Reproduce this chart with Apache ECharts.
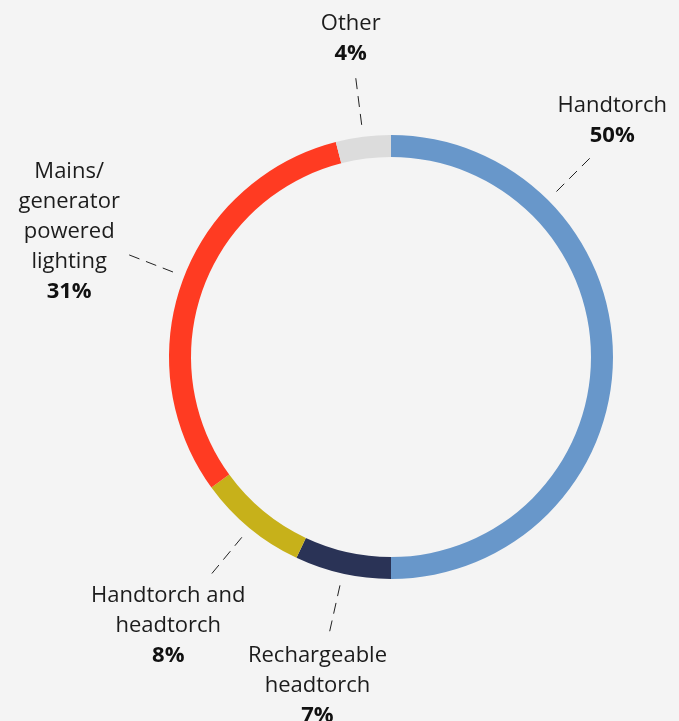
<!DOCTYPE html>
<html>
<head>
<meta charset="utf-8">
<script src="https://cdn.jsdelivr.net/npm/echarts@6/dist/echarts.min.js"></script>
<style>
  html, body { margin: 0; padding: 0; background: #f4f4f4; }
  #chart { width: 679px; height: 721px; }
</style>
</head>
<body>
<div id="chart"></div>
<script>
// Main light source used (share of respondents, %)
const categories = ['Handtorch', 'Rechargeable headtorch', 'Handtorch and headtorch', 'Mains/generator powered lighting', 'Other'];
const labelText = [['Handtorch'], ['Rechargeable', 'headtorch'], ['Handtorch and', 'headtorch'], ['Mains/', 'generator', 'powered', 'lighting'], ['Other']];
const shares = [50, 7, 8, 31, 4];
const colors = ['#6897ca', '#2a3356', '#c7b11a', '#ff3b22', '#dcdcdc'];

// ring geometry and leader lines
const CHART_W = 679;
const CENTER = [391, 357];
const RING = [200, 222];
const LEADER_FROM = 234;
const LEADER_TO = 281;
const LABEL_GAP = 10;
const LINE_H = 30;
const EDGE_MARGIN = 12;
// leader angles (degrees clockwise from 12 o'clock) that differ from the slice mid-angle
const leaderAngleOverride = { 0: 45, 3: 291.3 };

const total = shares.reduce((a, b) => a + b, 0);
const midAngles = [];
let acc = 0;
shares.forEach(v => { midAngles.push((acc + v / 2) / total * 360); acc += v; });

const FONT = "'Open Sans', sans-serif";

const chart = echarts.init(document.getElementById('chart'), null, { renderer: 'canvas' });

chart.setOption({
  backgroundColor: '#f4f4f4',
  animation: false,
  series: [{
    type: 'pie',
    center: CENTER,
    radius: RING,
    startAngle: 90,
    clockwise: true,
    silent: true,
    avoidLabelOverlap: false,
    data: categories.map((name, i) => ({
      name: name,
      value: shares[i],
      itemStyle: { color: colors[i] }
    })),
    itemStyle: { borderWidth: 0 },
    label: {
      show: true,
      position: 'outside',
      overflow: 'none',
      formatter: p => labelText[p.dataIndex].map(s => '{n|' + s + '}').join('\n') + '\n{p|' + p.value + '%}',
      rich: {
        n: { fontFamily: FONT, fontSize: 22, lineHeight: LINE_H, color: '#1c1c1c', align: 'center' },
        p: { fontFamily: FONT, fontSize: 22, lineHeight: LINE_H, fontWeight: 'bold', color: '#111', align: 'center' }
      }
    },
    labelLine: {
      show: true,
      length: 40,
      length2: 0,
      lineStyle: { color: '#222', width: 1, type: [11, 7] }
    },
    labelLayout: function (p) {
      const i = p.dataIndex;
      const deg = leaderAngleOverride[i] != null ? leaderAngleOverride[i] : midAngles[i];
      const rad = deg * Math.PI / 180;
      const dx = Math.sin(rad), dy = -Math.cos(rad);
      const a = [CENTER[0] + dx * LEADER_FROM, CENTER[1] + dy * LEADER_FROM];
      const b = [CENTER[0] + dx * LEADER_TO, CENTER[1] + dy * LEADER_TO];
      const hw = p.labelRect.width / 2;
      const hh = (labelText[i].length + 1) * LINE_H / 2;
      const tx = Math.abs(dx) > 1e-6 ? hw / Math.abs(dx) : Infinity;
      const ty = Math.abs(dy) > 1e-6 ? hh / Math.abs(dy) : Infinity;
      const d = Math.min(tx, ty) + LABEL_GAP;
      let x = b[0] + dx * d;
      const y = b[1] + dy * d;
      // keep the text block inside the canvas horizontally
      x = Math.min(Math.max(x, EDGE_MARGIN + hw), CHART_W - EDGE_MARGIN - hw);
      return {
        x: x,
        y: y,
        align: 'center',
        verticalAlign: 'middle',
        labelLinePoints: [a, b, b]
      };
    }
  }]
});
</script>
</body>
</html>
